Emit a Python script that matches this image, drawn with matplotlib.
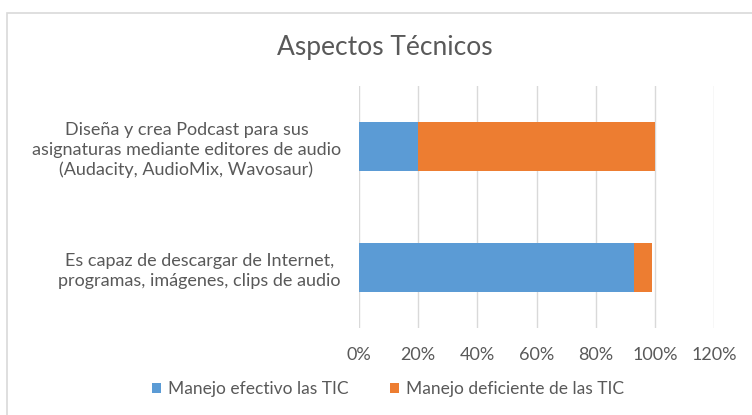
import matplotlib
matplotlib.use("Agg")
import matplotlib.pyplot as plt
from matplotlib.patches import Rectangle
from matplotlib.ticker import PercentFormatter

plt.rcParams["font.family"] = ["Lato", "DejaVu Sans"]

title = "Aspectos Técnicos"
categories = [
    "Es capaz de descargar de Internet,\nprogramas, imágenes, clips de audio",
    "Diseña y crea Podcast para sus\nasignaturas mediante editores de audio\n(Audacity, AudioMix, Wavosaur)",
]
efectivo = [0.93, 0.20]
deficiente = [0.06, 0.80]
series_names = ["Manejo efectivo las TIC", "Manejo deficiente de las TIC"]
x_ticks = [0, 0.2, 0.4, 0.6, 0.8, 1.0, 1.2]

blue = "#5b9bd5"
orange = "#ed7d31"
text_gray = "#595959"

fig = plt.figure(figsize=(7.52, 4.15), dpi=100)
fig.patches.append(Rectangle((7 / 752, -0.1), 1.2, 1 - 13 / 415 + 0.1,
                             transform=fig.transFigure, fill=False,
                             edgecolor="#d9d9d9", linewidth=1.2))

ax = fig.add_axes([359 / 752, 1 - 328 / 415, 355 / 752, 242 / 415])
y = range(len(categories))
ax.barh(y, efectivo, height=0.4, color=blue, label=series_names[0], zorder=2)
ax.barh(y, deficiente, left=efectivo, height=0.4, color=orange,
        label=series_names[1], zorder=2)

ax.set_xlim(0, 1.2)
ax.set_ylim(-0.5, 1.5)
ax.set_xticks(x_ticks)
ax.xaxis.set_major_formatter(PercentFormatter(1.0, decimals=0))
ax.set_yticks(list(y))
ax.set_yticklabels(categories, multialignment="center", linespacing=1.3)
ax.grid(axis="x", color="#d9d9d9", linewidth=1, zorder=0)
for s in ax.spines.values():
    s.set_visible(False)
ax.tick_params(axis="both", length=0, labelsize=13, labelcolor=text_gray)
ax.tick_params(axis="y", pad=13)
ax.tick_params(axis="x", pad=14)

fig.text(385 / 752, 1 - 47 / 415, title, ha="center", va="center",
         fontsize=19, color=text_gray)
fig.legend(loc="center", bbox_to_anchor=(388 / 752, 1 - 389 / 415), ncol=2,
           frameon=False, fontsize=12.5, labelcolor=text_gray,
           handlelength=0.55, handleheight=0.55, handletextpad=0.4,
           columnspacing=2.35)

fig.savefig("out.png", dpi=100)
